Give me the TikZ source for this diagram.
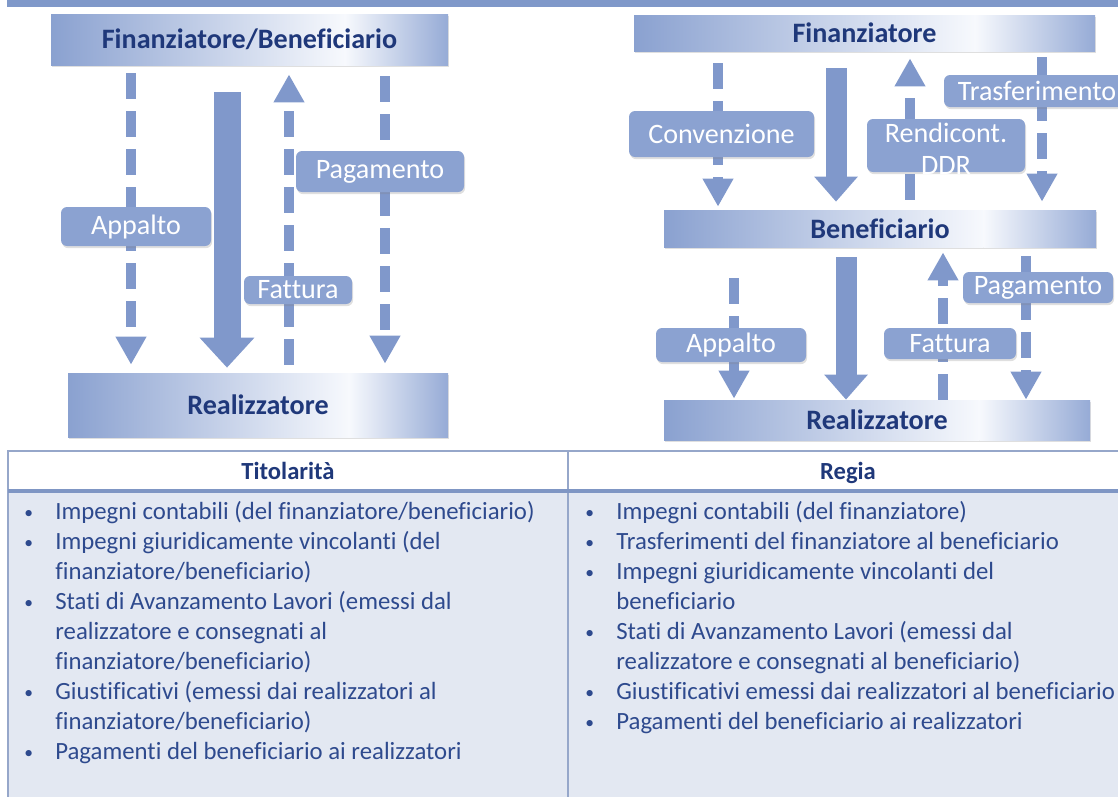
\documentclass[tikz,border=0pt]{standalone}
\usepackage{fontspec}
\setmainfont[Ligatures=NoCommon]{Carlito}
\usetikzlibrary{arrows.meta,shadows,calc}

\definecolor{topband}{RGB}{127,152,201}
\definecolor{barblue}{RGB}{138,161,208}
\definecolor{barend}{RGB}{150,171,214}
\definecolor{barlight}{RGB}{247,249,253}
\definecolor{navy}{RGB}{31,56,122}
\definecolor{arrowblue}{RGB}{128,152,203}
\definecolor{tagblue}{RGB}{139,162,209}
\definecolor{tableline}{RGB}{150,167,202}
\definecolor{headrule}{RGB}{127,150,196}
\definecolor{tablefill}{RGB}{227,232,242}
\definecolor{listblue}{RGB}{46,74,142}

\newcommand\bul{\makebox[0.62cm][l]{\raisebox{0.8pt}{\fontsize{10pt}{10pt}\selectfont •}}}
\newcommand\ind{\hspace*{0.62cm}}

\tikzset{
  pxbox/.style 2 args={minimum width=#1*0.02cm, minimum height=#2*0.02cm},
  % bar fill: blue on the left, light at about three quarters, blue again at the end
  actorbar/.style={rectangle, inner sep=0, text=navy,
    font=\fontsize{16pt}{18pt}\selectfont\bfseries,
    drop shadow={opacity=0.25, shadow xshift=0.6pt, shadow yshift=-1.4pt},
    path picture={
      \coordinate (pw) at (path picture bounding box.south west);
      \coordinate (pe) at (path picture bounding box.north east);
      \coordinate (pm) at ($(pw)!0.74!(pe)$);
      \shade[left color=barblue, right color=barlight] (pw) rectangle (pm |- pe);
      \shade[left color=barlight, right color=barend] (pm |- pw) rectangle (pe);
    }},
  flowtag/.style={rectangle, rounded corners=0.12cm, inner sep=0, fill=tagblue,
    text=white, font=\fontsize{16pt}{18pt}\selectfont,
    drop shadow={opacity=0.25, shadow xshift=0.6pt, shadow yshift=-1.2pt}},
  tagtext/.style={inner sep=0, text=white, align=center,
    font=\fontsize{16pt}{18pt}\selectfont},
  flowline/.style={draw=arrowblue, line width=0.19cm,
    -{Triangle[width=0.58cm,length=0.56cm]}},
  dashline/.style={flowline, dash pattern=on 0.52cm off 0.24cm},
  bigline/.style={draw=arrowblue, line width=0.54cm,
    -{Triangle[width=1.06cm,length=0.6cm]}},
  thinbig/.style={draw=arrowblue, line width=0.42cm,
    -{Triangle[width=0.84cm,length=0.5cm]}},
  headtext/.style={inner sep=0, text=navy, anchor=base,
    font=\fontsize{14pt}{16pt}\selectfont\bfseries},
  listtext/.style={inner sep=0, text=listblue, align=left,
    font=\fontsize{14.1pt}{17.07pt}\selectfont},
}

\begin{document}
\begin{tikzpicture}[x=0.02cm, y=-0.02cm]
\useasboundingbox (0,0) rectangle (1118,796);
\clip (0,0) rectangle (1118,796);

% band along the top edge
\fill[topband] (7,0) rectangle (1120,7);

% ---------- Titolarità scheme ----------
\node[actorbar, pxbox={397}{51}] (fb) at (249.5,39.5) {Finanziatore/Beneficiario};
\node[actorbar, pxbox={380}{64}] (re1) at (258,405) {Realizzatore};

\coordinate (a1) at (131,0);
\coordinate (a2) at (227,0);
\coordinate (a3) at (289,0);
\coordinate (a4) at (385,0);

\draw[dashline, shorten <=0.16cm, shorten >=0.16cm] (fb.south -| a1) -- (re1.north -| a1);
\draw[bigline, shorten <=0.54cm, shorten >=0.1cm] (fb.south -| a2) -- (re1.north -| a2);
\draw[dashline, shorten <=0.16cm, shorten >=0.18cm] (re1.north -| a3) -- (fb.south -| a3);
\draw[dashline, shorten <=0.22cm, shorten >=0.18cm] (fb.south -| a4) -- (re1.north -| a4);

\node[flowtag, pxbox={150}{39}] (tApp1) at (136,226.5) {Appalto};
\node[flowtag, pxbox={108}{28}] (tFat1) at (298,290) {Fattura};
\node[flowtag, pxbox={168}{41}] (tPag1) at (380,171.5) {Pagamento};

% ---------- Regia scheme ----------
\node[actorbar, pxbox={461}{36}] (fin) at (864.5,33) {Finanziatore};
\node[actorbar, pxbox={432}{37}] (ben) at (880,228.5) {Beneficiario};
\node[actorbar, pxbox={426}{40}] (re2) at (877,420) {Realizzatore};

\coordinate (b1) at (718,0);
\coordinate (b2) at (836,0);
\coordinate (b3) at (910,0);
\coordinate (b4) at (1042,0);
\coordinate (c1) at (734,0);
\coordinate (c2) at (846,0);
\coordinate (c3) at (943,0);
\coordinate (c4) at (1026,0);

\draw[dashline, shorten <=0.24cm, shorten >=0.06cm] (fin.south -| b1) -- (ben.north -| b1);
\draw[thinbig, shorten <=0.34cm, shorten >=0.16cm] (fin.south -| b2) -- (ben.north -| b2);
\draw[dashline, shorten <=0.2cm, shorten >=0.14cm] (ben.north -| b3) -- (fin.south -| b3);
\draw[dashline, shorten <=0.12cm, shorten >=0.16cm] (fin.south -| b4) -- (ben.north -| b4);

\draw[dashline, shorten <=0.62cm, shorten >=0.02cm] (ben.south -| c1) -- (re2.north -| c1);
\draw[thinbig, shorten <=0.2cm, shorten >=0cm] (ben.south -| c2) -- (re2.north -| c2);
\draw[dashline, shorten <=0cm, shorten >=0.1cm] (re2.north -| c3) -- (ben.south -| c3);
\draw[dashline, shorten <=0.18cm, shorten >=0cm] (ben.south -| c4) -- (re2.north -| c4);

\node[flowtag, pxbox={185}{46}] (tConv) at (721.5,134) {Convenzione};
\node[flowtag, pxbox={158}{53}] (tRend) at (946,145.5) {};
\node[tagtext] (tRendTxt) at (946,149) {Rendicont.\\DDR};
\node[flowtag, pxbox={186}{32}] (tTras) at (1037,91) {Trasferimento};
\node[flowtag, pxbox={150}{34}] (tApp2) at (731,345) {Appalto};
\node[flowtag, pxbox={132}{31}] (tFat2) at (950,343.5) {Fattura};
\node[flowtag, pxbox={150}{31}] (tPag2) at (1038,287.5) {Pagamento};

% ---------- comparison table ----------
\fill[white] (8,451) rectangle (1130,491);
\fill[tablefill] (8,491) rectangle (1130,800);
\draw[tableline, line width=0.8pt] (1130,451) -- (8,451) -- (8,800);
\draw[tableline, line width=0.8pt] (568,451) -- (568,800);
\draw[headrule, line width=2pt] (8,491) -- (1130,491);

\node[headtext] (hdrL) at (288,479) {Titolarità};
\node[headtext] (hdrR) at (848,479) {Regia};

\node[listtext, anchor=north west] (listL) at (24,501) {%
\bul Impegni contabili (del finanziatore/beneficiario)\\
\bul Impegni giuridicamente vincolanti (del\\
\ind finanziatore/beneficiario)\\
\bul Stati di Avanzamento Lavori (emessi dal\\
\ind realizzatore e consegnati al\\
\ind finanziatore/beneficiario)\\
\bul Giustificativi (emessi dai realizzatori al\\
\ind finanziatore/beneficiario)\\
\bul Pagamenti del beneficiario ai realizzatori};

\node[listtext, anchor=north west] (listR) at (585,501) {%
\bul Impegni contabili (del finanziatore)\\
\bul Trasferimenti del finanziatore al beneficiario\\
\bul Impegni giuridicamente vincolanti del\\
\ind beneficiario\\
\bul Stati di Avanzamento Lavori (emessi dal\\
\ind realizzatore e consegnati al beneficiario)\\
\bul Giustificativi emessi dai realizzatori al beneficiario\\
\bul Pagamenti del beneficiario ai realizzatori};
\end{tikzpicture}
\end{document}
